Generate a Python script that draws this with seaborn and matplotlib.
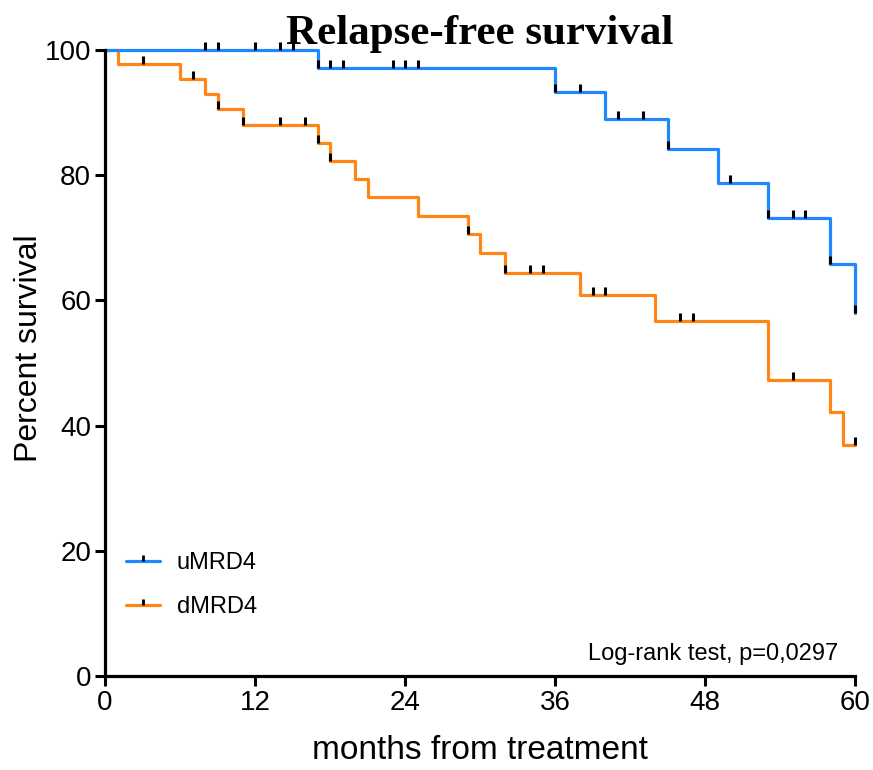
import numpy as np
import pandas as pd
import matplotlib
matplotlib.use("Agg")
import matplotlib.pyplot as plt
from matplotlib.path import Path
from matplotlib.lines import Line2D
import seaborn as sns

# Kaplan-Meier estimates: event times (months) and survival (%) after each event
umrd4_times = [0, 17, 36, 40, 45, 49, 53, 58, 60]
umrd4_surv = [100, 97.1, 93.3, 89.0, 84.2, 78.7, 73.1, 65.8, 58.0]
umrd4_censored = [8, 9, 12, 14, 15, 17, 18, 19, 23, 24, 25, 36, 38, 41, 43,
                  45, 50, 53, 55, 56, 58, 60]

dmrd4_times = [0, 1, 6, 8, 9, 11, 17, 18, 20, 21, 25, 29, 30, 32, 38, 44,
               53, 58, 59]
dmrd4_surv = [100, 97.7, 95.3, 92.9, 90.5, 88.0, 85.1, 82.3, 79.4, 76.5,
              73.5, 70.6, 67.5, 64.4, 60.9, 56.7, 47.3, 42.1, 36.9]
dmrd4_censored = [3, 7, 9, 11, 14, 16, 17, 18, 29, 32, 34, 35, 39, 40, 46,
                  47, 55, 60]

group_names = ["uMRD4", "dMRD4"]
group_colors = {"uMRD4": "#1E88FF", "dMRD4": "#FF8514"}
x_ticks = [0, 12, 24, 36, 48, 60]
y_ticks = [0, 20, 40, 60, 80, 100]
test_label = "Log-rank test, p=0,0297"


def step_value(times, surv, t):
    """Survival level of a step curve at time t."""
    idx = np.searchsorted(np.asarray(times), t, side="right") - 1
    return surv[idx]


def curve_frame(name, times, surv, censored):
    last = max(censored[-1], times[-1])
    t = list(times) + ([last] if last > times[-1] else [])
    s = list(surv) + ([surv[-1]] if last > times[-1] else [])
    return pd.DataFrame({"group": name, "month": t, "survival": s})


def censor_frame(name, times, surv, censored):
    return pd.DataFrame({
        "group": name,
        "month": censored,
        "survival": [step_value(times, surv, c) for c in censored],
    })


curves = pd.concat([
    curve_frame("dMRD4", dmrd4_times, dmrd4_surv, dmrd4_censored),
    curve_frame("uMRD4", umrd4_times, umrd4_surv, umrd4_censored),
])
censors = pd.concat([
    censor_frame("dMRD4", dmrd4_times, dmrd4_surv, dmrd4_censored),
    censor_frame("uMRD4", umrd4_times, umrd4_surv, umrd4_censored),
])

sns.set_theme(style="white")
plt.rcParams["font.family"] = ["Liberation Sans", "DejaVu Sans"]
plt.rcParams["text.color"] = "black"
plt.rcParams["axes.labelcolor"] = "black"
plt.rcParams["xtick.color"] = "black"
plt.rcParams["ytick.color"] = "black"

fig = plt.figure(figsize=(8.73, 7.70), dpi=100)
ax = fig.add_axes([105 / 873, 1 - 676 / 770, 750 / 873, 626 / 770])

# upward tick used as the censoring mark
tick_marker = Path([(0, 0), (0, 1)])

for name in ["dMRD4", "uMRD4"]:
    sub = curves[curves["group"] == name]
    sns.lineplot(data=sub, x="month", y="survival", ax=ax,
                 drawstyle="steps-post", estimator=None, sort=False,
                 color=group_colors[name], linewidth=2.3, clip_on=False,
                 legend=False)
for name in ["dMRD4", "uMRD4"]:
    sub = censors[censors["group"] == name]
    sns.lineplot(data=sub, x="month", y="survival", ax=ax,
                 estimator=None, sort=False, linestyle="", marker=tick_marker,
                 markersize=11, markeredgewidth=2.2, color="black",
                 markeredgecolor="black", clip_on=False, legend=False,
                 zorder=5)

ax.set_xlim(0, 60)
ax.set_ylim(0, 100)
ax.set_xticks(x_ticks)
ax.set_yticks(y_ticks)
ax.tick_params(axis="both", which="major", direction="out", length=7,
               width=2.2, color="black", labelsize=20, pad=3,
               bottom=True, left=True)
for side in ["top", "right"]:
    ax.spines[side].set_visible(False)
for side in ["left", "bottom"]:
    ax.spines[side].set_linewidth(2.3)
    ax.spines[side].set_color("black")

ax.set_xlabel("months from treatment", fontsize=24, labelpad=14)
ax.set_ylabel("Percent survival", fontsize=23)
ax.yaxis.set_label_coords((44 - 105) / 750, (676 - 348) / 626)

fig.text(480 / 873, 1 - 44 / 770, "Relapse-free survival",
         family=["Liberation Serif", "DejaVu Serif"], fontweight="bold",
         fontsize=31, ha="center", va="baseline", color="black")

ax.text((838 - 105) / 750, (676 - 660) / 626, test_label,
        transform=ax.transAxes, ha="right", va="baseline", fontsize=17)

handles = [Line2D([], [], color=group_colors[n], linewidth=2.3,
                  marker=tick_marker, markersize=9, markeredgewidth=2,
                  markeredgecolor="black", markerfacecolor="black")
           for n in group_names]
ax.legend(handles, group_names, loc="center left",
          bbox_to_anchor=((126 - 105) / 750, (676 - 585) / 626),
          frameon=False, fontsize=17, handlelength=1.44, handletextpad=0.72,
          labelspacing=0.92, borderpad=0, borderaxespad=0, numpoints=1)

fig.savefig("out.png", dpi=100)
